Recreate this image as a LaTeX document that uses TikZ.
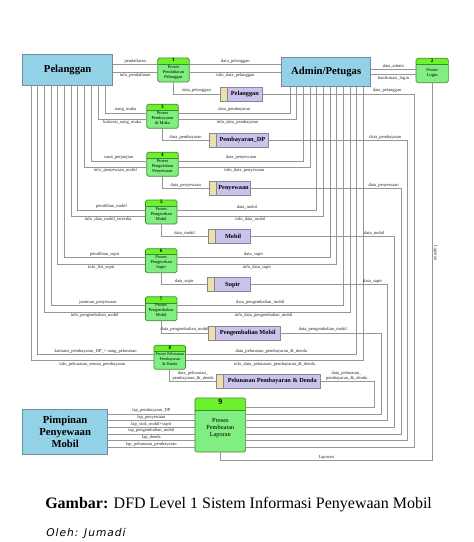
\documentclass[tikz,border=0pt]{standalone}
\usepackage{fontspec}
\setmainfont{Liberation Serif}
\newfontfamily\olehfont[LetterSpace=9]{DejaVu Sans}
\definecolor{entblue}{HTML}{93D2E6}
\definecolor{entedge}{HTML}{6E8C9C}
\definecolor{prochead}{HTML}{6CF22A}
\definecolor{procbody}{HTML}{80EE80}
\definecolor{procedge}{HTML}{3F8A33}
\definecolor{storebody}{HTML}{CBC3EC}
\definecolor{storetab}{HTML}{F0DFA8}
\definecolor{storeedge}{HTML}{85859A}
\definecolor{flowgray}{HTML}{969696}
\newcommand\storetext[1]{\hspace*{5.3pt}#1}
\tikzset{
  flow/.style={draw=flowgray,line width=0.75pt},
  lbl/.style={font=\fontsize{3.4}{3.8}\selectfont,inner sep=0.5pt,text=black!85},
  entity/.style={draw=entedge,fill=entblue,line width=0.6pt,align=center,inner sep=0pt,font=\bfseries\fontsize{8}{9}\selectfont},
  proc/.style={draw=procedge,fill=procbody,rounded corners=1.2pt,line width=0.5pt,minimum width=23.6pt,minimum height=18pt,inner sep=0pt,
    path picture={\fill[prochead,sharp corners] (path picture bounding box.north west) rectangle ([yshift=-#1]path picture bounding box.north east);
      \draw[procedge,sharp corners,line width=0.4pt] ([yshift=-#1]path picture bounding box.north west) -- ([yshift=-#1]path picture bounding box.north east);}},
  proc/.default=4.5pt,
  numtxt/.style={anchor=north,inner sep=0.4pt,font=\bfseries\fontsize{3.8}{4}\selectfont},
  proctxt/.style={anchor=north,inner sep=0pt,align=center,font=\fontsize{3.3}{3.8}\selectfont},
  store/.style={draw=storeedge,fill=storebody,line width=0.5pt,minimum height=10.5pt,inner sep=0pt,font=\bfseries\fontsize{4.7}{5}\selectfont,
    path picture={\fill[storetab] (path picture bounding box.north west) rectangle ([xshift=5.3pt]path picture bounding box.south west);
      \draw[storeedge,line width=0.5pt] ([xshift=5.3pt]path picture bounding box.north west) -- ([xshift=5.3pt]path picture bounding box.south west);}}
}
\begin{document}
\begin{tikzpicture}[x=0.75pt,y=-0.75pt]
\useasboundingbox (0,0) rectangle (474,542);

\node[entity,minimum width=67.5pt,minimum height=23.25pt] (pel) at (67.7,70) {Pelanggan};
\node[entity,minimum width=66.75pt,minimum height=22pt] (adm) at (326.2,72) {Admin/Petugas};
\node[entity,minimum width=63.75pt,minimum height=33.5pt] (pim) at (65.2,431.7) {Pimpinan\\Penyewaan\\Mobil};

\node[proc,label={[numtxt]90:1},label={[proctxt,yshift=-5.4pt]90:{Proses\\Pendaftaran\\Pelanggan}}] (p1) at (173.5,70) {};
\node[proc,minimum width=24.2pt,minimum height=18.3pt,label={[numtxt]90:2},label={[proctxt,yshift=-8pt]90:{Proses\\Login}}] (p2) at (432.2,70.5) {};
\node[proc,label={[numtxt]90:3},label={[proctxt,yshift=-5.4pt]90:{Proses\\Pembayaran\\di Muka}}] (p3) at (162.5,116.2) {};
\node[proc,label={[numtxt]90:4},label={[proctxt,yshift=-5.4pt]90:{Proses\\Pengelolaan\\Penyewaan}}] (p4) at (162.5,164.2) {};
\node[proc,label={[numtxt]90:5},label={[proctxt,yshift=-5.4pt]90:{Proses\\Pengecekan\\Mobil}}] (p5) at (161.3,212) {};
\node[proc,label={[numtxt]90:6},label={[proctxt,yshift=-5.4pt]90:{Proses\\Pengecekan\\Supir}}] (p6) at (161.2,260.7) {};
\node[proc,label={[numtxt]90:7},label={[proctxt,yshift=-5.4pt]90:{Proses\\Pengembalian\\Mobil}}] (p7) at (161.2,308.8) {};
\node[proc,label={[numtxt]90:8},label={[proctxt,yshift=-5.4pt,font=\fontsize{3.1}{3.8}\selectfont]90:{Proses Pelunasan\\Pembayaran\\\& Denda}}] (p8) at (169.8,357.2) {};
\node[proc=9pt,minimum width=38pt,minimum height=40.5pt,label={[numtxt,inner sep=1.2pt,font=\bfseries\fontsize{6}{7}\selectfont]90:9},label={[proctxt,yshift=-15pt,font=\fontsize{4.7}{5.3}\selectfont]90:{Proses\\Pembuatan\\Laporan}}] (p9) at (220.3,425) {};

\node[store,minimum width=32pt] (s1) at (241.3,94) {\storetext{Pelanggan}};
\node[store,minimum width=44.3pt] (s2) at (238.8,140.2) {\storetext{Pembayaran\_DP}};
\node[store,minimum width=31pt] (s3) at (230,188.3) {\storetext{Penyewaan}};
\node[store,minimum width=31.8pt] (s4) at (229.5,236.3) {\storetext{Mobil}};
\node[store,minimum width=32.3pt] (s5) at (229.2,284.8) {\storetext{Supir}};
\node[store,minimum width=53.8pt] (s6) at (244.2,333) {\storetext{Pengembalian Mobil}};
\node[store,minimum width=78pt] (s7) at (268.7,381.3) {\storetext{Pelunasan Pembayaran \& Denda}};

\draw[flow] (pel.east |- 0,65) -- (p1.west |- 0,65) node[lbl,midway,above] (f1a) {pendaftaran};
\draw[flow] (pel.east |- 0,72.3) -- (p1.west |- 0,72.3) node[lbl,midway,below] (f1b) {info\_pendaftaran};
\draw[flow] (105,0 |- pel.south) |- (p3.west |- 0,113) node[lbl,pos=0.75,above] (f3a) {uang\_muka};
\draw[flow] (98.3,0 |- pel.south) |- (p3.west |- 0,119.5) node[lbl,pos=0.75,below] (f3b) {kuitansi\_uang\_muka};
\draw[flow] (91,0 |- pel.south) |- (p4.west |- 0,161) node[lbl,pos=0.75,above] (f4a) {sarat\_perjanjian};
\draw[flow] (84.3,0 |- pel.south) |- (p4.west |- 0,167.3) node[lbl,pos=0.75,below] (f4b) {info\_penyewaan\_mobil};
\draw[flow] (77.7,0 |- pel.south) |- (p5.west |- 0,210) node[lbl,pos=0.75,above] (f5a) {pemilihan\_mobil};
\draw[flow] (71,0 |- pel.south) |- (p5.west |- 0,216) node[lbl,pos=0.75,below] (f5b) {info\_data\_mobil\_tersedia};
\draw[flow] (64.3,0 |- pel.south) |- (p6.west |- 0,257.7) node[lbl,pos=0.75,above] (f6a) {pemilihan\_supir};
\draw[flow] (57.7,0 |- pel.south) |- (p6.west |- 0,264) node[lbl,pos=0.75,below] (f6b) {info\_list\_supir};
\draw[flow] (51,0 |- pel.south) |- (p7.west |- 0,305.7) node[lbl,pos=0.75,above] (f7a) {jaminan\_penyewaan};
\draw[flow] (44.3,0 |- pel.south) |- (p7.west |- 0,312) node[lbl,pos=0.75,below] (f7b) {info\_pengembalian\_mobil};
\draw[flow] (37.7,0 |- pel.south) |- (p8.west |- 0,354.3) node[lbl,pos=0.75,above] (f8a) {kuitansi\_pembayaran\_DP\_+ uang\_pelunasan};
\draw[flow] (31,0 |- pel.south) |- (p8.west |- 0,360.7) node[lbl,pos=0.75,below] (f8b) {info\_pelunasan\_semua\_pembayaran};

\draw[flow] (p1.east |- 0,65) -- (adm.west |- 0,65) node[lbl,midway,above] (g1a) {data\_pelanggan};
\draw[flow] (p1.east |- 0,72.3) -- (adm.west |- 0,72.3) node[lbl,midway,below] (g1b) {info\_data\_pelanggan};
\draw[flow] (adm.east |- 0,69.3) -- (p2.west |- 0,69.3) node[lbl,midway,above] (g2a) {data\_admin};
\draw[flow] (adm.east |- 0,75) -- (p2.west |- 0,75) node[lbl,midway,below] (g2b) {konfirmasi\_login};
\draw[flow] (p3.east |- 0,113) -| (290,0 |- adm.south) node[lbl,pos=0.25,above] (g3a) {data\_pembayaran};
\draw[flow] (p3.east |- 0,119.5) -| (296.7,0 |- adm.south) node[lbl,pos=0.25,below] (g3b) {info\_data\_pembayaran};
\draw[flow] (p4.east |- 0,161) -| (303.3,0 |- adm.south) node[lbl,pos=0.25,above] (g4a) {data\_penyewaan};
\draw[flow] (p4.east |- 0,167.3) -| (310,0 |- adm.south) node[lbl,pos=0.25,below] (g4b) {info\_data\_penyewaan};
\draw[flow] (p5.east |- 0,210) -| (316.7,0 |- adm.south) node[lbl,pos=0.25,above] (g5a) {data\_mobil};
\draw[flow] (p5.east |- 0,216) -| (323.3,0 |- adm.south) node[lbl,pos=0.25,below] (g5b) {info\_data\_mobil};
\draw[flow] (p6.east |- 0,257.7) -| (330,0 |- adm.south) node[lbl,pos=0.25,above] (g6a) {data\_supir};
\draw[flow] (p6.east |- 0,264) -| (336.7,0 |- adm.south) node[lbl,pos=0.25,below] (g6b) {info\_data\_supir};
\draw[flow] (p7.east |- 0,305.7) -| (343.3,0 |- adm.south) node[lbl,pos=0.25,above] (g7a) {data\_pengembalian\_mobil};
\draw[flow] (p7.east |- 0,312) -| (350,0 |- adm.south) node[lbl,pos=0.25,below] (g7b) {info\_data\_pengembalian\_mobil};
\draw[flow] (p8.east |- 0,354.3) -| (356.7,0 |- adm.south) node[lbl,pos=0.25,above] (g8a) {data\_pelunasan\_pembayaran\_\&\_denda};
\draw[flow] (p8.east |- 0,360.7) -| (363.3,0 |- adm.south) node[lbl,pos=0.25,below] (g8b) {info\_data\_pelunasan\_pembayaran\_\&\_denda};

\draw[flow] (p1.south) |- (s1.west) node[lbl,pos=0.75,above] (d1) {data\_pelanggan};
\draw[flow] (p3.south) |- (s2.west) node[lbl,pos=0.75,above] (d2) {data\_pembayaran};
\draw[flow] (p4.south) |- (s3.west) node[lbl,pos=0.75,above] (d3) {data\_penyewaan};
\draw[flow] (p5.south) |- (s4.west) node[lbl,pos=0.75,above] (d4) {data\_mobil};
\draw[flow] (p6.south) |- (s5.west) node[lbl,pos=0.75,above] (d5) {data\_supir};
\draw[flow] (p7.south) |- (s6.west) node[lbl,pos=0.75,above] (d6) {data\_pengembalian\_mobil};
\draw[flow] (p8.south) |- (s7.west) node[lbl,pos=0.75,above,align=center] (d7) {data\_pelunasan\_\\pembayaran\_\&\_denda};

\draw[flow] (s1.east) -| (414.3,447.3) node[lbl,pos=0.41,above] (e1) {data\_pelanggan} -- (p9.east |- 0,447.3);
\draw[flow] (s2.east) -| (407.7,440.7) node[lbl,pos=0.42,above] (e2) {data\_pembayaran} -- (p9.east |- 0,440.7);
\draw[flow] (s3.east) -| (401.7,434) node[lbl,pos=0.44,above] (e3) {data\_penyewaan} -- (p9.east |- 0,434);
\draw[flow] (s4.east) -| (394.3,427.3) node[lbl,pos=0.43,above] (e4) {data\_mobil} -- (p9.east |- 0,427.3);
\draw[flow] (s5.east) -| (387.7,420.7) node[lbl,pos=0.445,above] (e5) {data\_supir} -- (p9.east |- 0,420.7);
\draw[flow] (s6.east) -| (381.7,414) node[lbl,pos=0.21,above] (e6) {data\_pengembalian\_mobil} -- (p9.east |- 0,414);
\draw[flow] (s7.east) -| (374.3,407.3) node[lbl,pos=0.24,above,align=center] (e7) {data\_pelunasan\_\\pembayaran\_\&\_denda} -- (p9.east |- 0,407.3);

\draw[flow] (p9.west |- 0,414) -- (pim.east |- 0,414) node[lbl,midway,above] (r1) {lap\_pembayaran\_DP};
\draw[flow] (p9.west |- 0,420.7) -- (pim.east |- 0,420.7) node[lbl,midway,above] (r2) {lap\_penyewaan};
\draw[flow] (p9.west |- 0,427.3) -- (pim.east |- 0,427.3) node[lbl,midway,above] (r3) {lap\_stok\_mobil+supir};
\draw[flow] (p9.west |- 0,434) -- (pim.east |- 0,434) node[lbl,midway,above] (r4) {lap\_pengembalian\_mobil};
\draw[flow] (p9.west |- 0,440.7) -- (pim.east |- 0,440.7) node[lbl,midway,above] (r5) {lap\_denda};
\draw[flow] (p9.west |- 0,447.3) -- (pim.east |- 0,447.3) node[lbl,midway,above] (r6) {lap\_pelunasan\_pembayaran};

\draw[flow] (p9.south) |- (p2.south |- 0,460.7) node[lbl,pos=0.75,above] (lap1) {Laporan} -- (p2.south) node[lbl,pos=0.55,anchor=south,rotate=-90] (lap2) {Laporan};

\node[anchor=base west,inner sep=0pt,font=\fontsize{12}{14}\selectfont] (ttl) at (45,508) {\textbf{Gambar:} DFD Level 1 Sistem Informasi Penyewaan Mobil};
\node[anchor=base west,inner sep=0pt,font=\olehfont\itshape\fontsize{8}{9}\selectfont] (oleh) at (46,536) {Oleh: Jumadi};
\end{tikzpicture}
\end{document}
